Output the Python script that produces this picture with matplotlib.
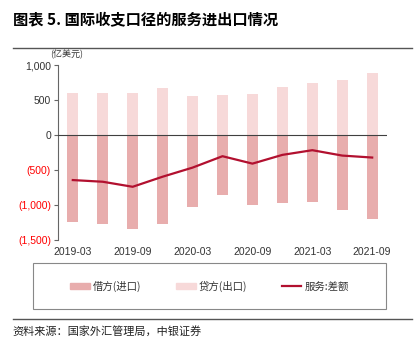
import numpy as np
import matplotlib
matplotlib.use("Agg")
import matplotlib.pyplot as plt
from matplotlib.patches import Patch, Rectangle
from matplotlib.lines import Line2D

plt.rcParams['font.family'] = ['Liberation Sans', 'Noto Sans CJK SC', 'DejaVu Sans']

# quarterly data, 100 million USD
quarters = ['2019-03', '2019-06', '2019-09', '2019-12', '2020-03', '2020-06',
            '2020-09', '2020-12', '2021-03', '2021-06', '2021-09']
credit = [604, 595, 604, 667, 552, 566, 585, 681, 739, 782, 882]          # 贷方(出口)
debit = [-1242, -1271, -1338, -1271, -1026, -863, -993, -974, -955, -1065, -1199]  # 借方(进口)
balance = [-643, -667, -739, -595, -465, -302, -408, -283, -216, -293, -321]       # 服务:差额

c_debit = '#E8ADAD'
c_credit = '#F7D9D9'
c_line = '#B2102F'

fig = plt.figure(figsize=(4.19, 3.54), dpi=100)
ax = fig.add_axes([0.138, 0.322, 0.786, 0.494])

x = np.arange(len(quarters))
ax.bar(x, credit, width=0.37, color=c_credit, zorder=2)
ax.bar(x, debit, width=0.37, color=c_debit, zorder=2)
ax.plot(x, balance, color=c_line, lw=1.6, zorder=3)
ax.axhline(0, color='#404040', lw=0.8, zorder=4)

ax.set_xlim(-0.5, 10.5)
ax.set_ylim(-1500, 1000)
ax.set_yticks([1000, 500, 0, -500, -1000, -1500])
ax.set_yticklabels(['1,000', '500', '0', '(500)', '(1,000)', '(1,500)'], fontsize=7.5)
for lab in ax.get_yticklabels():
    if lab.get_text().startswith('('):
        lab.set_color('#FF0000')
    else:
        lab.set_color('#333333')
ax.set_xticks(x[::2])
ax.set_xticklabels(quarters[::2], fontsize=7.5, color='#333333')
ax.tick_params(axis='x', length=0, pad=5)
ax.tick_params(axis='y', length=3, width=0.8, color='#666666', pad=2)
for s in ['top', 'right', 'bottom']:
    ax.spines[s].set_visible(False)
ax.spines['left'].set_color('#666666')
ax.spines['left'].set_linewidth(0.8)

fig.text(0.12, 0.838, '(亿美元)', fontsize=6.5, color='#333333', family=['Noto Sans CJK SC'])

# title and separators
fig.text(0.03, 0.942, '图表 5. 国际收支口径的服务进出口情况', fontsize=11, fontweight='bold',
         va='center', family=['Noto Sans CJK SC', 'DejaVu Sans'])
fig.add_artist(Line2D([0.03, 0.983], [0.865, 0.865], color='#555555', lw=1.0))
fig.add_artist(Line2D([0.03, 0.983], [0.098, 0.098], color='#555555', lw=1.0))
fig.text(0.03, 0.065, '资料来源：国家外汇管理局，中银证券', fontsize=8, style='italic',
         va='center', color='#222222', family=['Noto Sans CJK SC'])

# legend box
fig.add_artist(Rectangle((0.0788, 0.127), 0.842, 0.130, transform=fig.transFigure,
                         fill=False, edgecolor='#888888', lw=0.8))
handles = [Patch(color=c_debit, label='借方(进口)'),
           Patch(color=c_credit, label='贷方(出口)'),
           Line2D([0], [0], color=c_line, lw=1.6, label='服务:差额')]
leg = fig.legend(handles=handles, loc='center', bbox_to_anchor=(0.5, 0.192),
                 ncol=3, frameon=False, handlelength=1.9, handleheight=0.5,
                 handletextpad=0.3, columnspacing=3.3,
                 prop={'family': ['Noto Sans CJK SC', 'DejaVu Sans'], 'size': 7.5})
for t in leg.get_texts():
    t.set_color('#333333')

fig.savefig('out.png', dpi=100)
